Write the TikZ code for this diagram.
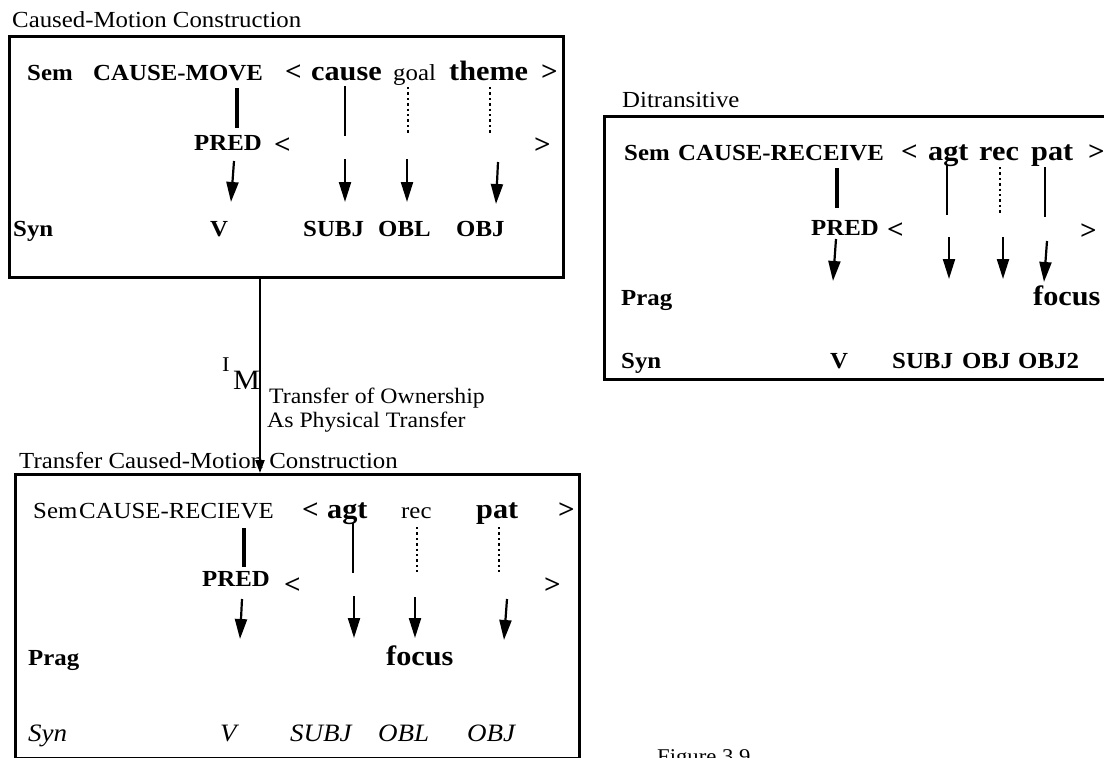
\documentclass[tikz,border=0pt]{standalone}
\usepackage{fontspec}
\setmainfont{Liberation Serif}[FakeStretch=1.08]
\usetikzlibrary{arrows.meta}
\tikzset{
  t/.style={inner sep=0pt, anchor=base west, font=\fontsize{23}{26}\selectfont},
  ttl/.style={t, font=\fontsize{23}{26}\selectfont},
  tb/.style={t, font=\fontsize{23}{26}\selectfont\bfseries},
  ang/.style={t, font=\fontsize{27}{30}\selectfont\bfseries},
  tr/.style={t, font=\fontsize{23}{26}\selectfont},
  ti/.style={t, font=\fontsize{25}{28}\selectfont\itshape},
  big/.style={t, font=\fontsize{28}{31}\selectfont\bfseries},
  lnk/.style={t, font=\fontsize{22}{25}\selectfont},
  frame/.style={draw, line width=2.5pt, inner sep=0pt, anchor=north west},
  thickln/.style={line width=4pt},
  solidln/.style={line width=2.2pt},
  dotln/.style={line width=2.4pt, dash pattern=on 2.4pt off 3pt},
  arr/.style={line width=2.2pt, -{Triangle[length=20pt,width=12pt]}},
  mainarr/.style={line width=2.2pt, -{Triangle[length=13pt,width=9pt]}},
}
\begin{document}
\begin{tikzpicture}[x=1pt,y=-1pt]
\useasboundingbox (0,0) rectangle (1104,758);
\clip (0,0) rectangle (1104,758);
\fill[white] (0,0) rectangle (1104,758);

% ---------- Box 1: Caused-Motion Construction ----------
\node[ttl] (title1) at (12,27) {Caused-Motion Construction};
\node[frame, minimum width=554pt, minimum height=241pt] (box1) at (8,35) {};
\node[tb] (sem1) at (27,80) {Sem};
\node[tb] (pred1sem) at (93,80) {CAUSE-MOVE};
\node[ang] (lt1) at (285,80) {<};
\node[big] (cause1) at (311,80) {cause};
\node[t] (goal1) at (393,80) {goal};
\node[big] (theme1) at (449,80) {theme};
\node[ang] (gt1) at (541,80) {>};
\draw[thickln] (237,88) -- (237,128);
\draw[solidln] (345,86) -- (345,136);
\draw[dotln] (408,87) -- (408,135);
\draw[dotln] (490,87) -- (490,135);
\node[tb] (pred1) at (194,150) {PRED};
\node[ang] (lt1b) at (274,153) {<};
\node[ang] (gt1b) at (534,153) {>};
\draw[arr] (234,161) -- (231,202);
\draw[arr] (345,159) -- (345,202);
\draw[arr] (407,159) -- (407,202);
\draw[arr] (498,162) -- (496,204);
\node[tb] (syn1) at (13,236) {Syn};
\node[tb] (v1) at (210,236) {V};
\node[tb] (subj1) at (303,236) {SUBJ};
\node[tb] (obl1) at (378,236) {OBL};
\node[tb] (obj1) at (456,236) {OBJ};

% ---------- Box 2: Ditransitive ----------
\node[ttl] (title2) at (622,107) {Ditransitive};
\node[frame, minimum width=600pt, minimum height=263pt] (box2) at (603,115) {};
\node[tb] (sem2) at (624,160) {Sem};
\node[tb] (pred2sem) at (678,160) {CAUSE-RECEIVE};
\node[ang] (lt2) at (901,160) {<};
\node[big] (agt2) at (928,160) {agt};
\node[big] (rec2) at (979,160) {rec};
\node[big] (pat2) at (1031,160) {pat};
\node[ang] (gt2) at (1088,160) {>};
\draw[thickln] (837,168) -- (837,208);
\draw[solidln] (947,165) -- (947,215);
\draw[dotln] (1000,167) -- (1000,213);
\draw[solidln] (1045,167) -- (1045,217);
\node[tb] (pred2) at (811,235) {PRED};
\node[ang] (lt2b) at (887,238) {<};
\node[ang] (gt2b) at (1080,239) {>};
\draw[arr] (836,239) -- (833,281);
\draw[arr] (949,237) -- (949,279);
\draw[arr] (1003,237) -- (1003,279);
\draw[arr] (1047,241) -- (1044,282);
\node[tb] (prag2) at (621,305) {Prag};
\node[big] (focus2) at (1033,305) {focus};
\node[tb] (syn2) at (621,368) {Syn};
\node[tb] (v2) at (830,368) {V};
\node[tb] (subj2) at (892,368) {SUBJ};
\node[tb] (obj2) at (962,368) {OBJ};
\node[tb] (objtwo2) at (1018,368) {OBJ2};

% ---------- Link ----------
\node[t, font=\fontsize{21}{22}\selectfont] (imI) at (222,371) {I};
\node[t, font=\fontsize{28}{30}\selectfont] (imM) at (233,389) {M};
\node[lnk] (lk1) at (269,403) {Transfer of Ownership};
\node[lnk] (lk2) at (267,427) {As Physical Transfer};

% ---------- Box 3: Transfer Caused-Motion Construction ----------
\node[ttl] (title3) at (19,468) {Transfer Caused-Motion Construction};
\node[frame, minimum width=564pt, minimum height=284pt] (box3) at (14,473) {};
\path (box1.south west) ++(252,0) coordinate (s1);
\path (box3.north west) ++(246,0) coordinate (t3);
\draw[mainarr] (s1) -- (t3);

\node[tr] (sem3) at (33,518) {Sem};
\node[tr] (pred3sem) at (79,518) {CAUSE-RECIEVE};
\node[ang] (lt3) at (302,518) {<};
\node[big] (agt3) at (327,518) {agt};
\node[tr] (rec3) at (401,518) {rec};
\node[big] (pat3) at (476,518) {pat};
\node[ang] (gt3) at (558,518) {>};
\draw[thickln] (244,528) -- (244,567);
\draw[solidln] (353,523) -- (353,573);
\draw[dotln] (417,527) -- (417,572);
\draw[dotln] (499,527) -- (499,572);
\node[tb] (pred3) at (202,586) {PRED};
\node[ang] (lt3b) at (284,593) {<};
\node[ang] (gt3b) at (544,593) {>};
\draw[arr] (242,599) -- (240,639);
\draw[arr] (354,596) -- (354,638);
\draw[arr] (415,597) -- (415,638);
\draw[arr] (507,599) -- (504,640);
\node[tb] (prag3) at (28,665) {Prag};
\node[big] (focus3) at (386,665) {focus};
\node[ti] (syn3) at (28,741) {Syn};
\node[ti] (v3) at (220,741) {V};
\node[ti] (subj3) at (290,741) {SUBJ};
\node[ti] (obl3) at (378,741) {OBL};
\node[ti] (obj3) at (467,741) {OBJ};

\node[t, font=\fontsize{21}{24}\selectfont] (fig) at (657,763) {Figure 3.9};
\end{tikzpicture}
\end{document}
